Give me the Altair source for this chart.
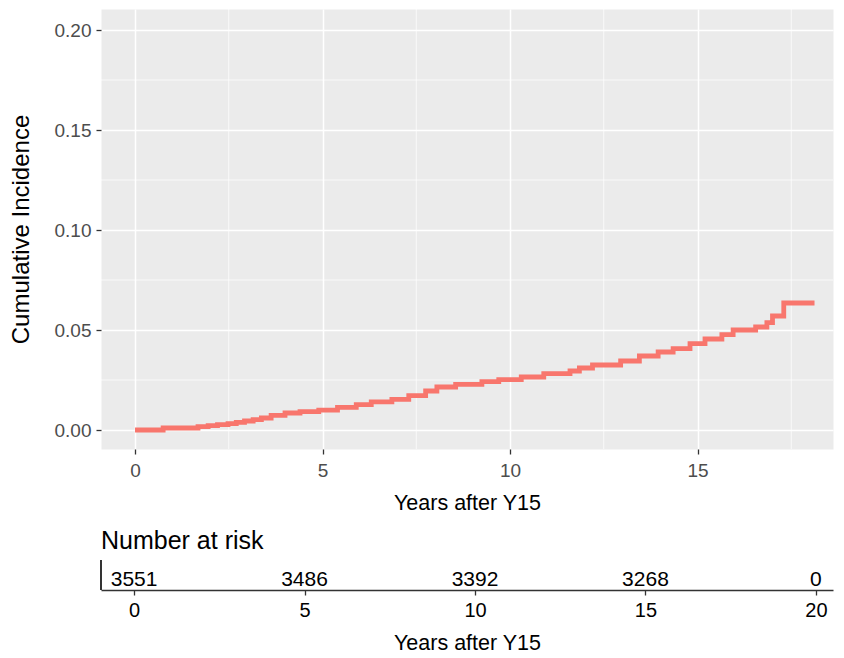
import altair as alt
import pandas as pd

# ---- data ----
times = [0, 0.75, 1.68, 1.95, 2.2, 2.48, 2.7, 2.92, 3.15, 3.37, 3.63, 4.0, 4.4, 4.9,
         5.4, 5.9, 6.3, 6.85, 7.3, 7.75, 8.05, 8.55, 9.25, 9.7, 10.3, 10.9, 11.6,
         11.85, 12.2, 12.95, 13.45, 13.95, 14.35, 14.8, 15.2, 15.65, 15.95, 16.55,
         16.85, 17.0, 17.3, 18.12]
incidence = [0.0, 0.001, 0.0017, 0.0022, 0.0027, 0.0032, 0.0038, 0.0045, 0.0052, 0.006,
             0.0073, 0.0085, 0.0092, 0.0099, 0.0113, 0.0127, 0.0141, 0.0153, 0.0172,
             0.0195, 0.0215, 0.0228, 0.0242, 0.0252, 0.0265, 0.0282, 0.0295, 0.031,
             0.0325, 0.0345, 0.037, 0.039, 0.0407, 0.0432, 0.0455, 0.0477, 0.050,
             0.0515, 0.0537, 0.057, 0.0635, 0.0635]

x_major = [0, 5, 10, 15]
x_minor = [2.5, 7.5, 12.5, 17.5]
y_major = [0.0, 0.05, 0.10, 0.15, 0.20]
y_minor = [0.025, 0.075, 0.125, 0.175]

risk_times = [0, 5, 10, 15, 20]
risk_counts = ["3551", "3486", "3392", "3268", "0"]

FONT = "Liberation Sans"

curve = pd.DataFrame({"t": times, "ci": incidence})
xminor_df = pd.DataFrame({"v": x_minor})
yminor_df = pd.DataFrame({"v": y_minor})
risk_df = pd.DataFrame({"t": risk_times, "n": risk_counts})

PW = 732

xscale = alt.Scale(domain=[-0.907, 18.613], nice=False, zero=False)
yscale = alt.Scale(domain=[-0.0095, 0.2105], nice=False, zero=False)

xaxis = alt.Axis(values=x_major, title="Years after Y15", grid=True, gridColor="white",
                 gridWidth=1.5, domain=False, tickColor="#333333", tickSize=5,
                 tickWidth=1.3, labelColor="#4D4D4D", labelFontSize=19, labelPadding=7,
                 titleFontSize=21.5, titleColor="black", titleFontWeight="normal",
                 titlePadding=12, labelFont=FONT, titleFont=FONT)
yaxis = alt.Axis(values=y_major, format=".2f", title="Cumulative Incidence", grid=True,
                 gridColor="white", gridWidth=1.5, domain=False, tickColor="#333333",
                 tickSize=5, tickWidth=1.3, labelColor="#4D4D4D", labelFontSize=19,
                 labelPadding=5, titleFontSize=24, titleColor="black",
                 titleFontWeight="normal", titlePadding=21, labelFont=FONT, titleFont=FONT)

vminor = alt.Chart(xminor_df).mark_rule(color="white", strokeWidth=0.75).encode(
    x=alt.X("v:Q", scale=xscale, axis=xaxis))
hminor = alt.Chart(yminor_df).mark_rule(color="white", strokeWidth=0.75).encode(
    y=alt.Y("v:Q", scale=yscale, axis=yaxis))
line = alt.Chart(curve).mark_line(interpolate="step-after", color="#F8766D",
                                  strokeWidth=4.8).encode(
    x=alt.X("t:Q", scale=xscale, axis=xaxis),
    y=alt.Y("ci:Q", scale=yscale, axis=yaxis))

top = alt.layer(vminor, hminor, line).properties(
    width=PW, height=440,
    view=alt.ViewBackground(fill="#EBEBEB", stroke="transparent"))

# ---- risk table ----
rscale = alt.Scale(domain=[-0.97, 20.5], nice=False, zero=False)
raxis = alt.Axis(values=risk_times, title="Years after Y15", grid=False, domain=True,
                 domainColor="#333333", domainWidth=1.3, tickColor="#333333", tickSize=5,
                 tickWidth=1.3, labelColor="black", labelFontSize=20, labelPadding=5,
                 titleFontSize=21.5, titleColor="black", titleFontWeight="normal",
                 titlePadding=12, labelFont=FONT, titleFont=FONT)

texts = alt.Chart(risk_df).mark_text(fontSize=21, font=FONT, color="black",
                                     baseline="middle", align="center").encode(
    x=alt.X("t:Q", scale=rscale, axis=raxis),
    y=alt.value(19.5),
    text="n:N")
leftline = alt.Chart(risk_df).mark_rule(color="#333333", strokeWidth=1.3).encode(
    x=alt.value(0), y=alt.value(0), y2=alt.value(30))

bottom = alt.layer(texts, leftline).properties(
    width=PW, height=30,
    view=alt.ViewBackground(fill="white", stroke="transparent"),
    title=alt.TitleParams("Number at risk", anchor="start", frame="group",
                          fontSize=25, font=FONT, fontWeight="normal", color="black",
                          baseline="alphabetic", offset=-15))

chart = alt.vconcat(top, bottom, spacing=14).properties(
    padding={"left": 0, "top": 0, "right": 0, "bottom": 0}
).configure(font=FONT)

chart.save("out.html", embed_options={"renderer": "svg", "actions": False})
